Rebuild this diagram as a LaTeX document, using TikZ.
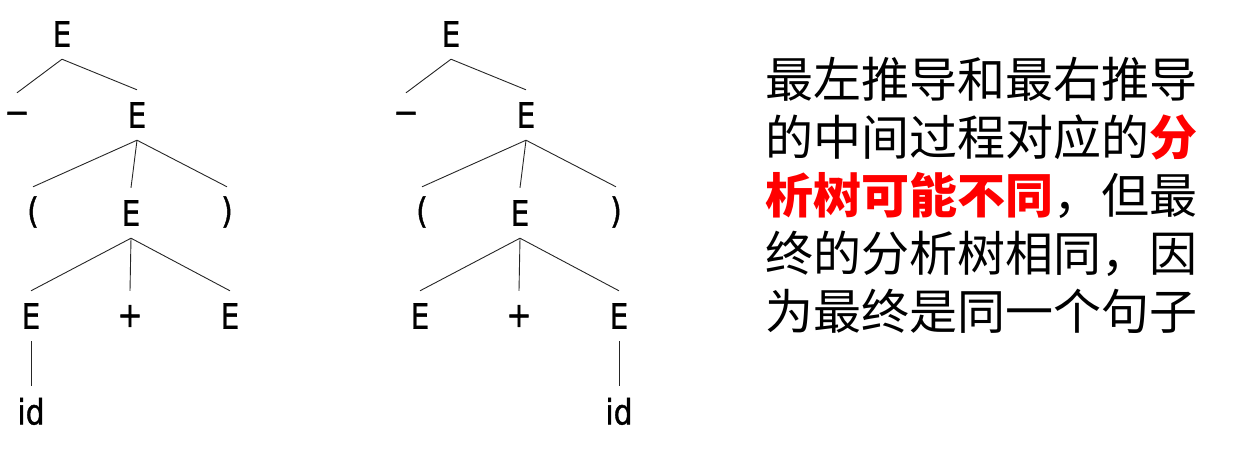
\documentclass[tikz,border=0pt]{standalone}
\usepackage{fontspec}
\setmainfont{DejaVu Sans}
\newfontfamily\treefont[FakeStretch=0.85, FakeBold=1.2]{DejaVu Sans}
\newfontfamily\cjk{Noto Sans CJK SC}
\usetikzlibrary{positioning}

\begin{document}
\begin{tikzpicture}[
    x=1pt, y=-1pt,
    sym/.style={font=\treefont\fontsize{35}{38}\selectfont, inner sep=0pt,
                minimum height=50pt, minimum width=14pt},
    edge/.style={line width=0.9pt, black!85},
    note/.style={font=\cjk\fontsize{48}{58}\selectfont, align=left,
                 inner sep=0pt, anchor=north west},
]
\useasboundingbox (0,0) rectangle (1248,450);

% ---------------- two parse trees, same upper part ----------------------
\foreach \tr/\dx in {L/0, R/389} {%
  \begin{scope}[xshift=\dx pt]
    \node[sym] (\tr root) at (62,34)  {E};
    \node[sym] (\tr neg)  at (17,118) {−};
    \node[sym] (\tr e1)   at (137,115) {E};
    \node[sym] (\tr lp)   at (33,212) {(};
    \node[sym] (\tr e2)   at (131,213) {E};
    \node[sym] (\tr rp)   at (227,212) {)};
    \node[sym] (\tr ea)   at (31,316) {E};
    \node[sym] (\tr plus) at (130,316) {+};
    \node[sym] (\tr eb)   at (230,316) {E};
  \end{scope}
  \draw[edge] (\tr root.south) -- (\tr neg.north);
  \draw[edge] (\tr root.south) -- (\tr e1.north);
  \foreach \c in {lp, e2, rp}
    \draw[edge] (\tr e1.south) -- (\tr\c.north);
  \foreach \c in {ea, plus, eb}
    \draw[edge] (\tr e2.south) -- (\tr\c.north);
}

% ---------------- leaves: id under left E / right E ---------------------
\node[sym, below=0pt of Lea, yshift=-45pt] (Lid) {id};
\node[sym, below=0pt of Reb, yshift=-45pt] (Rid) {id};
\draw[edge] (Lea.south) -- (Lid.north);
\draw[edge] (Reb.south) -- (Rid.north);

% ---------------- remark ------------------------------------------------
\node[note] (remark) at (765,57)
    {最左推导和最右推导\\
     的中间过程对应的{\bfseries\color{red}分}\\
     {\bfseries\color{red}析树可能不同}，但最\\
     终的分析树相同，因\\
     为最终是同一个句子};

\end{tikzpicture}
\end{document}
